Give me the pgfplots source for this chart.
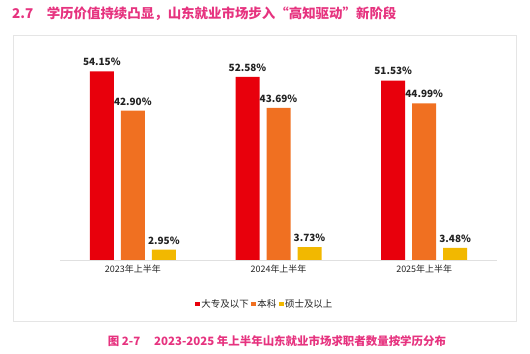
\documentclass[border=0pt]{standalone}
\usepackage{fontspec}
\setmainfont{Noto Sans CJK SC}
\usepackage{pgfplots}
\pgfplotsset{compat=1.18}
\definecolor{cRed}{HTML}{E8000C}
\definecolor{cOrange}{HTML}{F07021}
\definecolor{cYellow}{HTML}{F2B800}
\definecolor{cPink}{HTML}{E6337F}
\definecolor{cText}{HTML}{222222}
\begin{document}
\begin{tikzpicture}
\path[use as bounding box] (0,0) rectangle (530bp,354bp);
\draw[black!10, line width=0.6bp] (13bp,33bp) rectangle (516bp,319bp);
\node[anchor=west, text=cPink, font=\bfseries\fontsize{13.5}{16}\selectfont, inner sep=0pt] at (12bp,340bp) {2.7\hspace{1em}学历价值持续凸显，山东就业市场步入“高知驱动”新阶段};
\node[anchor=center, text=cPink, font=\bfseries\fontsize{11.5}{14}\selectfont, inner sep=0pt] at (277bp,13bp) {图 2-7\hspace{1.2em}2023-2025 年上半年山东就业市场求职者数量按学历分布};
\begin{axis}[
  at={(60bp,94bp)}, anchor=south west,
  scale only axis, width=437bp, height=220bp,
  xmin=-0.5, xmax=2.5, ymin=0, ymax=63.2,
  axis x line*=bottom, axis y line=none,
  x axis line style={black!12, line width=0.8bp},
  xtick={0,1,2}, xticklabels={2023年上半年,2024年上半年,2025年上半年},
  major tick length=0pt,
  x tick label style={font=\fontsize{9}{11}\selectfont, text=cText, yshift=-1bp},
  ybar, bar width=24bp,
  /pgf/number format/assume math mode=true,
  nodes near coords={\pgfmathprintnumber[fixed,fixed zerofill,precision=2]{\pgfplotspointmeta}\%},
  every node near coord/.append style={font=\bfseries\fontsize{10}{12}\selectfont, text=cText, yshift=2bp},
  legend columns=3,
  legend style={at={(0.468,-0.2)}, anchor=center, draw=none, fill=none,
    font=\fontsize{9.5}{11}\selectfont, text=cText,
    nodes={inner sep=1.2bp},
    /tikz/every even column/.append style={column sep=1.5bp}},
  legend image code/.code={\fill[#1] (0bp,-2.4bp) rectangle (4.8bp,2.4bp);},
]
\addplot[fill=cRed, draw=none, bar shift=-31bp] coordinates {(0,54.15) (1,52.58) (2,51.53)};
\addplot[fill=cOrange, draw=none, bar shift=0bp] coordinates {(0,42.90) (1,43.69) (2,44.99)};
\addplot[fill=cYellow, draw=none, bar shift=31bp] coordinates {(0,2.95) (1,3.73) (2,3.48)};
\legend{大专及以下,本科,硕士及以上}
\end{axis}
\end{tikzpicture}
\end{document}
